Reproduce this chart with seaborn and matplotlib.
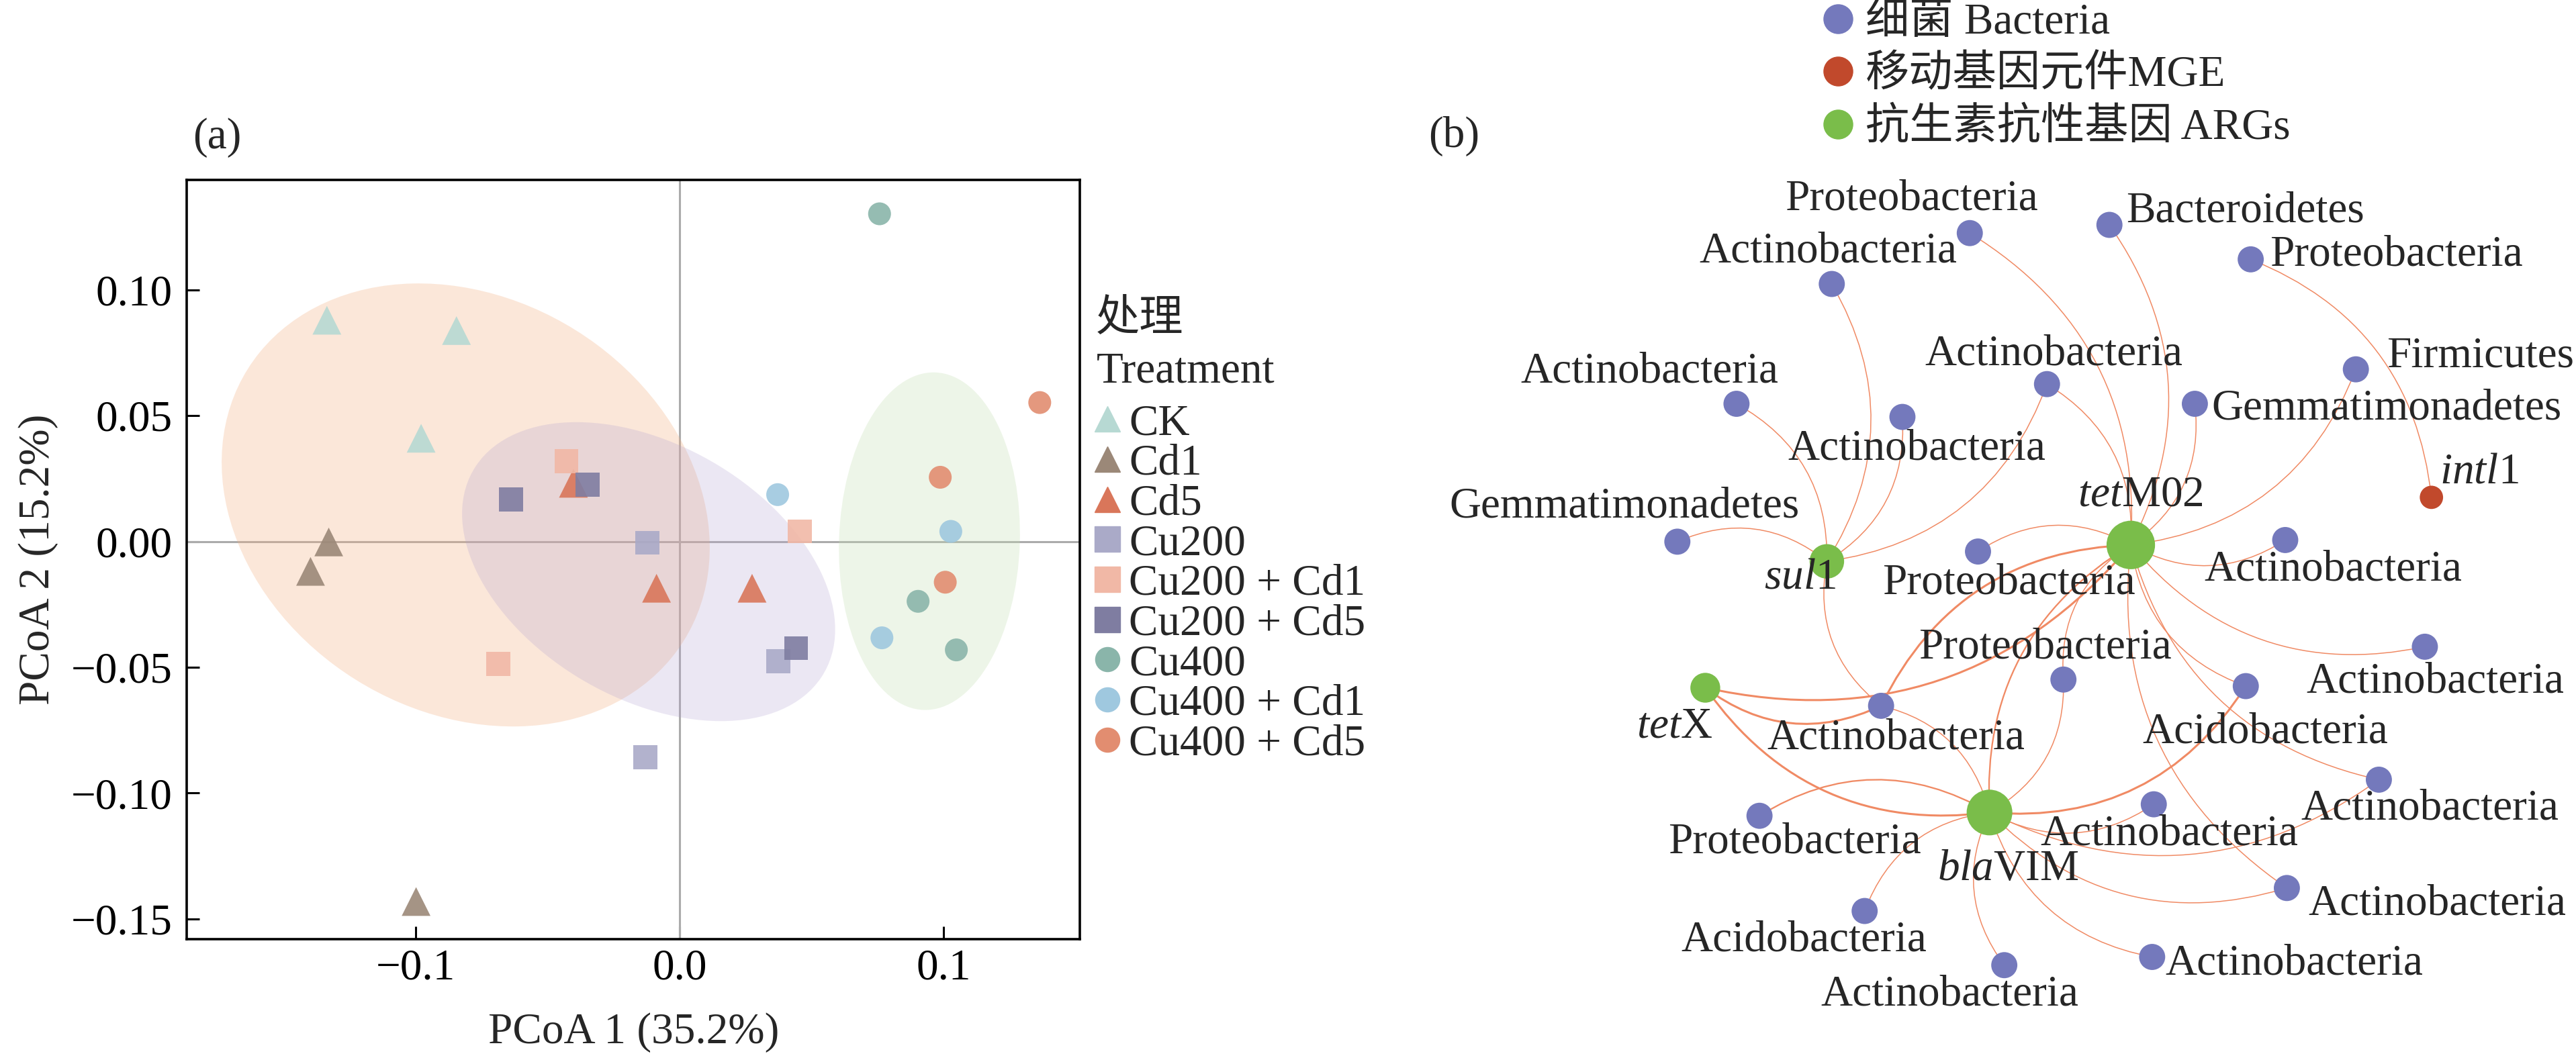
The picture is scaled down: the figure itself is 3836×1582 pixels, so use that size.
import numpy as np
import pandas as pd
import seaborn as sns
import matplotlib.pyplot as plt
from matplotlib.patches import Ellipse
from matplotlib.lines import Line2D

# ---------------- Data: (a) PCoA ----------------
treatments = ['CK', 'Cd1', 'Cd5', 'Cu200', 'Cu200 + Cd1', 'Cu200 + Cd5',
              'Cu400', 'Cu400 + Cd1', 'Cu400 + Cd5']
pcoa1 = [-0.1336, -0.0845, -0.0979,
         -0.1329, -0.1398, -0.0998,
         -0.0402, -0.0087, 0.0275,
         -0.0122, 0.0374, -0.0129,
         -0.0428, 0.0456, -0.0687,
         -0.0638, -0.0348, 0.0442,
         0.0758, 0.0904, 0.1049,
         0.0372, 0.1028, 0.0767,
         0.1365, 0.0988, 0.1007]
pcoa2 = [0.0879, 0.0838, 0.0410,
         -0.0002, -0.0119, -0.1431,
         0.0231, -0.0186, -0.0186,
         -0.0005, -0.0476, -0.0857,
         0.0319, 0.0040, -0.0486,
         0.0167, 0.0226, -0.0424,
         0.1302, -0.0238, -0.0431,
         0.0186, 0.0040, -0.0383,
         0.0552, 0.0255, -0.0162]

# confidence ellipses (centre, width, height, angle)
ell_x = [-0.0810, -0.0117, 0.0947]
ell_y = [0.0145, -0.0120, 0.0001]
ell_w = [0.1977, 0.1555, 0.1342]
ell_h = [0.1616, 0.0996, 0.0685]
ell_angle = [-37.85, -32.85, 88.2]

# ---------------- Data: (b) network ----------------
node_id = ['b1', 'b2', 'b3', 'b4', 'b5', 'b6', 'b7', 'b8', 'b9', 'b10', 'b11', 'b12',
           'b13', 'b14', 'b15', 'b16', 'b17', 'b18', 'b19', 'b20', 'b21', 'b22', 'b23',
           'intl1', 'tetM02', 'sul1', 'tetX', 'blaVIM']
node_label = ['Proteobacteria', 'Bacteroidetes', 'Proteobacteria', 'Actinobacteria',
              'Actinobacteria', 'Actinobacteria', 'Actinobacteria', 'Gemmatimonadetes',
              'Firmicutes', 'Gemmatimonadetes', 'Proteobacteria', 'Actinobacteria',
              'Actinobacteria', 'Proteobacteria', 'Actinobacteria', 'Acidobacteria',
              'Actinobacteria', 'Proteobacteria', 'Actinobacteria', 'Actinobacteria',
              'Acidobacteria', 'Actinobacteria', 'Actinobacteria',
              r'$\mathit{intl}\mathrm{1}$', r'$\mathit{tet}\mathrm{M02}$',
              r'$\mathit{sul}\mathrm{1}$', r'$\mathit{tet}\mathrm{X}$',
              r'$\mathit{bla}\mathrm{VIM}$']
node_type = ['Bacteria'] * 23 + ['MGE'] + ['ARGs'] * 4
# layout coordinates of the network
node_x = [1199, 1284, 1370, 1115, 1057, 1158, 1246, 1336, 1434, 1021, 1204, 1391,
          1476, 1256, 1145, 1367, 1448, 1071, 1311, 1392, 1135, 1310, 1220,
          1480, 1297, 1112, 1038, 1211]
node_y = [142, 137, 158, 173, 246, 254, 234, 246, 225, 330, 336, 329,
          394, 414, 430, 418, 475, 497, 490, 541, 555, 583, 588,
          303, 332, 342, 419, 495]

edge_src = ['b1', 'b2', 'b3', 'b4', 'b5', 'b6', 'b7', 'b7', 'b8', 'b9', 'b10', 'b11',
            'b12', 'b13', 'b14', 'b14', 'b15', 'b15', 'b15', 'b15', 'b16', 'b16',
            'b17', 'b17', 'b18', 'b19', 'b20', 'b20', 'b21', 'b22', 'b23',
            'blaVIM', 'blaVIM', 'tetM02']
edge_dst = ['tetM02', 'tetM02', 'intl1', 'sul1', 'sul1', 'sul1', 'sul1', 'tetM02',
            'tetM02', 'tetM02', 'sul1', 'tetM02', 'tetM02', 'tetM02', 'tetM02',
            'blaVIM', 'sul1', 'tetX', 'tetM02', 'blaVIM', 'tetM02', 'blaVIM',
            'tetM02', 'blaVIM', 'blaVIM', 'blaVIM', 'blaVIM', 'tetM02', 'blaVIM',
            'blaVIM', 'blaVIM', 'tetX', 'tetM02', 'tetX']
edge_weight = [1, 1, 1, 1, 1, 1, 1, 1, 1, 1, 1, 1, 1, 1, 1, 1, 1, 2, 2, 1, 1, 2,
               1, 1, 1.5, 1, 1, 1, 1, 1, 1, 2, 1.5, 2]

# ---------------- Style ----------------
sns.set_theme(style='white')
plt.rcParams['font.family'] = ['Liberation Serif', 'Noto Sans CJK SC']
plt.rcParams['mathtext.fontset'] = 'custom'
plt.rcParams['mathtext.rm'] = 'Liberation Serif'
plt.rcParams['mathtext.it'] = 'Liberation Serif:italic'
plt.rcParams['axes.unicode_minus'] = True
FS = 47

colors = ['#B7D9D3', '#9B8878', '#D9765A', '#AAAAC8', '#F1B8A6', '#7F7DA1',
          '#8AB5AA', '#9FC8DF', '#E28D70']
markers = ['^', '^', '^', 's', 's', 's', 'o', 'o', 'o']
marker_area = {'^': 950, 's': 660, 'o': 600}

df = pd.DataFrame({'PCoA1': pcoa1, 'PCoA2': pcoa2,
                   'Treatment': np.repeat(treatments, 3)})

fig = plt.figure(figsize=(38.36, 15.82), dpi=100)

# ---------------- (a) ----------------
ax1 = fig.add_axes([0.0726, 0.1158, 0.3466, 0.7151])
ax1.axhline(0, color='#ABABAB', lw=2.2, zorder=1)
ax1.axvline(0, color='#ABABAB', lw=2.2, zorder=1)
for cx, cy, w, h, ang, col, al in zip(ell_x, ell_y, ell_w, ell_h, ell_angle,
                                      ['#F4B183', '#B3A2D1', '#C5E0B4'], [0.3, 0.25, 0.3]):
    ax1.add_patch(Ellipse((cx, cy), w, h, angle=ang, facecolor=col, alpha=al,
                          edgecolor='none', zorder=2))

sns.scatterplot(data=df, x='PCoA1', y='PCoA2', hue='Treatment', style='Treatment',
                size='Treatment', hue_order=treatments, style_order=treatments,
                size_order=treatments,
                palette=dict(zip(treatments, colors)),
                markers=dict(zip(treatments, markers)),
                sizes={t: marker_area[m] for t, m in zip(treatments, markers)},
                alpha=0.9, linewidth=0, legend=False, ax=ax1, zorder=3)

ax1.set_xlim(-0.1866, 0.1517)
ax1.set_ylim(-0.158, 0.1438)
xt = [-0.1, 0.0, 0.1]
yt = [-0.15, -0.10, -0.05, 0.00, 0.05, 0.10]
ax1.set_xticks(xt)
ax1.set_xticklabels([f'{v:.1f}'.replace('-', '\u2212') for v in xt])
ax1.set_yticks(yt)
ax1.set_yticklabels([f'{v:.2f}'.replace('-', '\u2212') for v in yt])
ax1.tick_params(axis='both', direction='in', length=14, width=2.2, labelsize=FS,
                colors='black', left=True, bottom=True)
ax1.tick_params(axis='x', pad=10)
ax1.tick_params(axis='y', pad=16)
for sp in ax1.spines.values():
    sp.set_linewidth(2.6)
    sp.set_color('black')
ax1.set_xlabel('PCoA 1 (35.2%)', fontsize=FS)
ax1.set_ylabel('PCoA 2 (15.2%)', fontsize=FS)
ax1.xaxis.set_label_coords(0.5, -0.097)
ax1.yaxis.set_label_coords(-0.144, 0.5)

leg_ms = {'^': 27, 's': 28, 'o': 26}
handles = [Line2D([], [], marker=m, color=c, linestyle='none', markersize=leg_ms[m])
           for m, c in zip(markers, colors)]
ax1.legend(handles, treatments, loc='center left', bbox_to_anchor=(1.0134, 0.4674),
           frameon=False, fontsize=FS, handlelength=0.7, handletextpad=0.15,
           labelspacing=0.0, borderaxespad=0, borderpad=0)
fig.text(1632 / 3836, 1 - 477 / 1582, '处理', ha='left', va='center', fontsize=FS)
fig.text(1633 / 3836, 1 - 554 / 1582, 'Treatment', ha='left', va='center', fontsize=FS)

fig.text(323 / 3836, 1 - 205 / 1582, '(a)', ha='center', va='center', fontsize=FS)

# ---------------- (b) ----------------
ax2 = fig.add_axes([0.55, 0.0, 0.45, 1.0])

pos = {n: (x, y) for n, x, y in zip(node_id, node_x, node_y)}
for s, t, w in zip(edge_src, edge_dst, edge_weight):
    ax2.annotate('', xy=pos[t], xytext=pos[s],
                 arrowprops=dict(arrowstyle='-', color='#F08A64', lw=1.1 * w,
                                 shrinkA=0, shrinkB=0,
                                 connectionstyle='arc3,rad=-0.3'),
                 zorder=1)

node_df = pd.DataFrame({'node': node_id, 'x': node_x, 'y': node_y, 'type': node_type})
node_diam = {'intl1': 25, 'tetM02': 52, 'sul1': 37, 'tetX': 32, 'blaVIM': 49}
type_colors = {'Bacteria': '#7479BC', 'MGE': '#C1492C', 'ARGs': '#7ABD4A'}
sns.scatterplot(data=node_df, x='x', y='y', hue='type', size='node',
                palette=type_colors,
                sizes={n: node_diam.get(n, 28) ** 2 for n in node_id},
                linewidth=0, legend=False, ax=ax2, zorder=3)
ax2.set_xlim(862.4, 1568)
ax2.set_ylim(647, 0)
ax2.axis('off')

# label placement relative to node (dx, dy, ha)
label_off = {
    'b1': (-35.5, -20.6, 'center'), 'b2': (10.3, -8.3, 'left'),
    'b3': (11.8, -2.6, 'left'), 'b4': (-2.3, -19.7, 'center'),
    'b5': (-53, -19.7, 'center'), 'b6': (8.9, 19.3, 'center'),
    'b7': (4, -18.1, 'center'), 'b8': (10.4, 3, 'left'),
    'b9': (18.6, -8.1, 'left'), 'b10': (-32.4, -21.5, 'center'),
    'b11': (18.6, 19.5, 'center'), 'b12': (29, 18, 'center'),
    'b13': (6.2, 21.3, 'center'), 'b14': (-11.1, -19.4, 'center'),
    'b15': (9.1, 19.8, 'center'), 'b16': (11.8, 27.9, 'center'),
    'b17': (30.9, 17.8, 'center'), 'b18': (21.5, 16, 'center'),
    'b19': (9.4, 18.4, 'center'), 'b20': (91.6, 9.9, 'center'),
    'b21': (-37, 17.8, 'center'), 'b22': (86.3, 4, 'center'),
    'b23': (-33.3, 18.1, 'center'), 'intl1': (5.2, -15.1, 'left'),
    'tetM02': (5.9, -30.2, 'center'), 'sul1': (-16.4, 10.1, 'center'),
    'tetX': (-18.9, 23.9, 'center'), 'blaVIM': (11.1, 34.8, 'center'),
}
for n, lab, x, y in zip(node_id, node_label, node_x, node_y):
    dx, dy, ha = label_off[n]
    ax2.text(x + dx, y + dy, lab, ha=ha, va='center', fontsize=FS, zorder=4)

leg_labels = ['细菌 Bacteria', '移动基因元件MGE', '抗生素抗性基因 ARGs']
leg_handles = [Line2D([], [], marker='o', color=type_colors[k], linestyle='none',
                      markersize=31) for k in ['Bacteria', 'MGE', 'ARGs']]
ax2.legend(leg_handles, leg_labels, loc='center left', bbox_to_anchor=(1110.8, 46.2),
           bbox_transform=ax2.transData, frameon=False, fontsize=FS,
           handlelength=0.6, handletextpad=0.32, labelspacing=0.27,
           borderpad=0, borderaxespad=0)

fig.text(2165 / 3836, 1 - 203 / 1582, '(b)', ha='center', va='center', fontsize=FS)

plt.savefig('out.png', dpi=100)
plt.close()
